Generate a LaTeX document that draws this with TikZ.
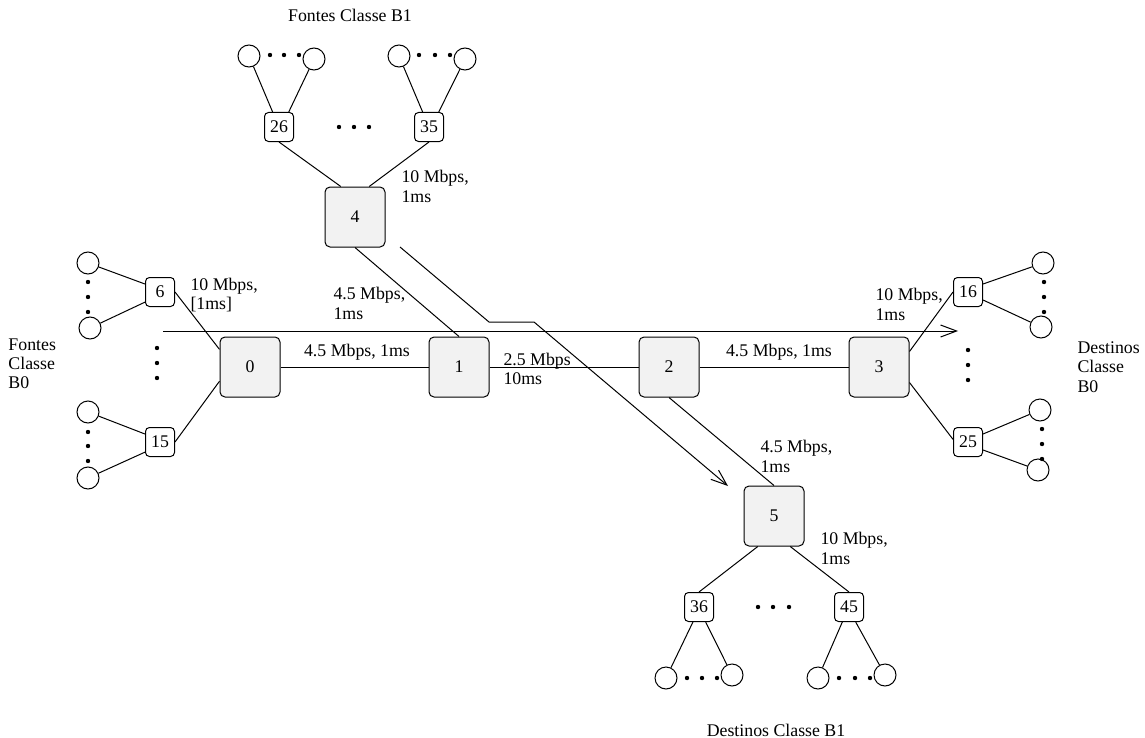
\documentclass[tikz,border=0pt]{standalone}
\usepackage{fontspec}
\setmainfont{Liberation Serif}
\usetikzlibrary{arrows.meta}
\begin{document}
\begin{tikzpicture}[x=0.5pt,y=-0.5pt, font=\fontsize{8.9}{9.6}\selectfont, line width=0.5pt,
 router/.style={draw, rounded corners=2.5pt, fill=gray!10, minimum size=30pt, inner sep=0},
 host/.style={draw, rounded corners=2pt, minimum size=14.5pt, inner sep=0, fill=white},
 leaf/.style={draw, circle, minimum size=11pt, inner sep=0},
 dotn/.style={circle, fill=black, minimum size=2.2pt, inner sep=0},
 lbl/.style={align=left, inner sep=0, anchor=west},
 ttl/.style={align=center, inner sep=0},
 flow/.style={-{Straight Barb[length=8pt,width=6pt]}}]
\useasboundingbox (0,0) rectangle (1145,738);

% routers
\node[router] (n0) at (250,367) {0};
\node[router] (n1) at (459,367) {1};
\node[router] (n2) at (669,367) {2};
\node[router] (n3) at (879,367) {3};
\node[router] (n4) at (355,217) {4};
\node[router] (n5) at (774,516) {5};

% hosts
\node[host] (n26) at (279,127) {26};
\node[host] (n35) at (429,127) {35};
\node[host] (n6) at (160,292) {6};
\node[host] (n15) at (160,442) {15};
\node[host] (n16) at (968,292) {16};
\node[host] (n25) at (968,442) {25};
\node[host] (n36) at (699,607) {36};
\node[host] (n45) at (849,607) {45};

% leaves
\node[leaf] (a26) at (249,56) {};
\node[leaf] (b26) at (314,59) {};
\node[leaf] (a35) at (399,56) {};
\node[leaf] (b35) at (465,59) {};
\node[leaf] (a6) at (88,263) {};
\node[leaf] (b6) at (90,328) {};
\node[leaf] (a15) at (88,412) {};
\node[leaf] (b15) at (88,478) {};
\node[leaf] (a16) at (1043,263) {};
\node[leaf] (b16) at (1041,327) {};
\node[leaf] (a25) at (1040,410) {};
\node[leaf] (b25) at (1038,470) {};
\node[leaf] (a36) at (666,678) {};
\node[leaf] (b36) at (732,675) {};
\node[leaf] (a45) at (818,678) {};
\node[leaf] (b45) at (885,675) {};

% dots
\foreach \p [count=\i] in {{270,55},{284,55},{299,55},{419,55},{435,55},{450,55},
  {339,127},{354,127},{369,127},
  {88,282},{88,297},{88,312},{88,432},{88,446},{88,461},{157,348},{157,363},{157,378},
  {1044,282},{1044,297},{1044,312},{1042,429},{1042,444},{1042,459},{968,350},{968,365},{968,380},
  {687,678},{702,678},{717,678},{839,678},{855,678},{870,678},{758,607},{773,607},{789,607}}
  \node[dotn] (d\i) at (\p) {};

% backbone links
\draw (n0) -- (n1);
\draw (n1) -- (n2);
\draw (n2) -- (n3);
\draw (n4.south) -- (n1.north);
\draw (n2.south) -- (n5.north);

% access links
\draw (n26.south) -- (n4.115);
\draw (n35.south) -- (n4.65);
\draw (n6.east) -- (n0.150);
\draw (n15.east) -- (n0.-155);
\draw (n3.27) -- (n16.west);
\draw (n3.-27) -- (n25.170);
\draw (n5.-118) -- (n36.north);
\draw (n5.-62) -- (n45.north);

% leaf links
\draw (a26) -- (n26.113);
\draw (b26) -- (n26.57);
\draw (a35) -- (n35.113);
\draw (b35) -- (n35.57);
\draw (a6) -- (n6.152);
\draw (b6) -- (n6.-146);
\draw (a15) -- (n15.152);
\draw (b15) -- (n15.-146);
\draw (a16) -- (n16.28);
\draw (b16) -- (n16.-28);
\draw (a25) -- (n25.28);
\draw (b25) -- (n25.-28);
\draw (a36) -- (n36.-112);
\draw (b36) -- (n36.-66);
\draw (a45) -- (n45.-114);
\draw (b45) -- (n45.-66);

% flows
\coordinate (f0) at (163,331);
\coordinate (f1) at (958,331);
\draw[flow] (f0) -- (f1);
\coordinate (g0) at (400,247);
\coordinate (g1) at (489,322);
\coordinate (g2) at (534,322);
\coordinate (g3) at (728,486);
\draw[flow] (g0) -- (g1) -- (g2) -- (g3);

% labels
\node[lbl] (l4) at (401,186.5) {10 Mbps,\\1ms};
\node[lbl] (l6) at (190,295) {10 Mbps,\\{[1ms]}};
\node[lbl] (l41) at (333,303.5) {4.5 Mbps,\\1ms};
\node[ttl] (l01) at (357,352) {4.5 Mbps, 1ms};
\node[lbl] (l12) at (503,369) {2.5 Mbps\\10ms};
\node[ttl] (l23) at (779,352) {4.5 Mbps, 1ms};
\node[lbl] (l316) at (875,304.5) {10 Mbps,\\1ms};
\node[lbl] (l25) at (760,456.5) {4.5 Mbps,\\1ms};
\node[lbl] (l5) at (820,548.5) {10 Mbps,\\1ms};

% titles
\node[ttl] (t1) at (350,15) {Fontes Classe B1};
\node[ttl] (t2) at (776,730) {Destinos Classe B1};
\node[lbl] (t3) at (8,364) {Fontes\\Classe\\B0};
\node[lbl] (t4) at (1077,367) {Destinos\\Classe\\B0};
\end{tikzpicture}
\end{document}
